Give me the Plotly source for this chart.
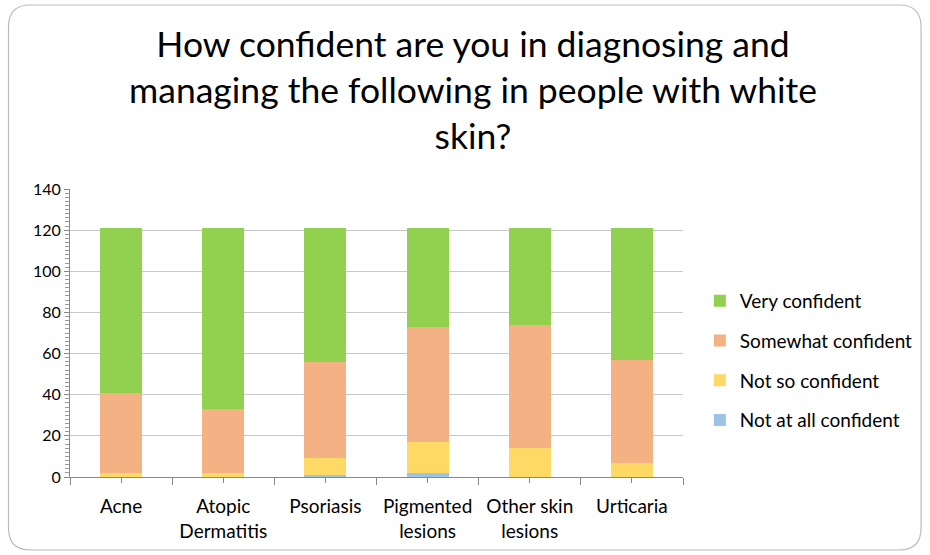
import plotly.graph_objects as go

categories = ["Acne", "Atopic<br>Dermatitis", "Psoriasis", "Pigmented<br>lesions", "Other skin<br>lesions", "Urticaria"]
not_at_all = [0, 0, 1, 2, 0, 0]
not_so = [2, 2, 8, 15, 14, 7]
somewhat = [39, 31, 47, 56, 60, 50]
very = [80, 88, 65, 48, 47, 64]

series_names = ["Not at all confident", "Not so confident", "Somewhat confident", "Very confident"]
series_vals = [not_at_all, not_so, somewhat, very]
colors = ["#9DC3E6", "#FFD966", "#F4B183", "#92D050"]
ranks = [4, 3, 2, 1]

W, H = 930, 555
ML, MR, MT, MB = 70, 242, 189, 78
PW, PH = W - ML - MR, H - MT - MB

def px(x):
    return (x - ML) / PW

def py(y):
    return (H - MB - y) / PH

fig = go.Figure()
for name, vals, col, rk in zip(series_names, series_vals, colors, ranks):
    fig.add_trace(go.Bar(x=categories, y=vals, name=name, marker_color=col,
                         marker_line_width=0, legendgroup=name, legendrank=rk))

# invisible trace carrying the secondary (center-tick) axis
fig.add_trace(go.Bar(x=categories, y=[0] * len(categories), xaxis="x2", yaxis="y",
                     showlegend=False, hoverinfo="skip", marker_color="rgba(0,0,0,0)"))

# rounded border
r = 22
x0, y0, x1, y1 = 8, 5, 928, 550
path = (f"M {px(x0+r)},{py(y0)} L {px(x1-r)},{py(y0)} "
        f"Q {px(x1)},{py(y0)} {px(x1)},{py(y0+r)} "
        f"L {px(x1)},{py(y1-r)} Q {px(x1)},{py(y1)} {px(x1-r)},{py(y1)} "
        f"L {px(x0+r)},{py(y1)} Q {px(x0)},{py(y1)} {px(x0)},{py(y1-r)} "
        f"L {px(x0)},{py(y0+r)} Q {px(x0)},{py(y0)} {px(x0+r)},{py(y0)} Z")

fig.update_layout(
    width=W, height=H,
    margin=dict(l=ML, r=MR, t=MT, b=MB),
    paper_bgcolor="white", plot_bgcolor="white",
    barmode="stack", bargap=0.59,
    font=dict(family="Lato", color="#000000"),
    title=dict(text="How confident are you in diagnosing and<br>managing the following in people with white<br>skin?",
               x=473 / W, xanchor="center", y=1 - 57 / H, yanchor="top",
               font=dict(size=35.5, family="Lato", color="#000000")),
    showlegend=True,
    legend=dict(x=px(705), xanchor="left", y=py(282), yanchor="top",
                traceorder="grouped", tracegroupgap=12,
                font=dict(size=19, color="#000000"), bgcolor="rgba(0,0,0,0)"),
    xaxis=dict(type="category", showline=True, linecolor="#888888", linewidth=1,
               ticks="outside", ticklen=7, tickcolor="#888888", tickson="boundaries",
               ticklabelstandoff=12,
               tickfont=dict(size=19, color="#000000"), showgrid=False),
    xaxis2=dict(type="category", overlaying="x", anchor="y", side="bottom",
                categoryorder="array", categoryarray=categories,
                showticklabels=False, ticks="outside", ticklen=5, tickcolor="#888888",
                showgrid=False, showline=False, zeroline=False),
    yaxis=dict(range=[0, 140], dtick=20, showline=True, linecolor="#888888", linewidth=1,
               ticks="outside", ticklen=5, tickcolor="#888888",
               gridcolor="#C8C8C8", gridwidth=1,
               tickfont=dict(size=16, color="#000000"),
               minor=dict(dtick=2, ticks="outside", ticklen=4, tickcolor="#999999", showgrid=False),
               zeroline=False),
    shapes=[dict(type="path", path=path, xref="paper", yref="paper",
                 line=dict(color="#BBBBBB", width=1.2), fillcolor="rgba(0,0,0,0)", layer="below")],
)

fig.write_html("out.html")
